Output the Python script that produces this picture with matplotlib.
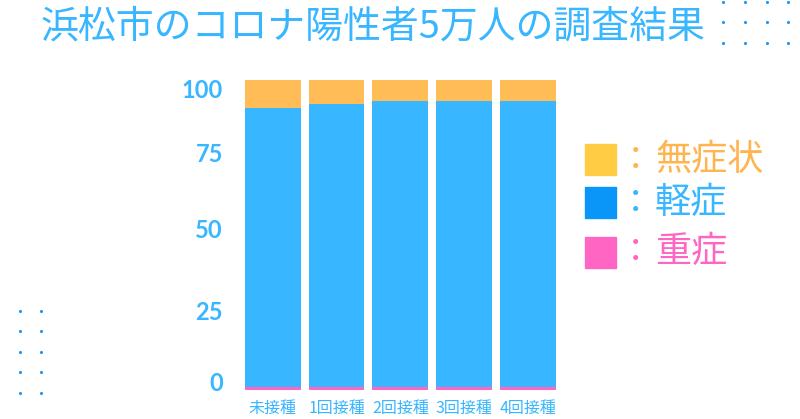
import matplotlib
matplotlib.use("Agg")
import matplotlib.pyplot as plt
import numpy as np

plt.rcParams['font.family'] = ['Noto Sans CJK JP', 'DejaVu Sans']

categories = ["未接種", "1回接種", "2回接種", "3回接種", "4回接種"]
severe = [1.0, 1.0, 1.0, 1.0, 1.0]
asymptomatic = [8.9, 7.8, 6.9, 6.9, 6.9]
mild = [100 - a - s for a, s in zip(asymptomatic, severe)]
ytick_values = [0, 25, 50, 75, 100]
legend_labels = ["無症状", "軽症", "重症"]
title = "浜松市のコロナ陽性者5万人の調査結果"

BLUE = "#38B6FF"
ORANGE = "#FFBC57"
PINK = "#FF66C4"
DOT = "#1A98F5"

fig = plt.figure(figsize=(8, 4.19), dpi=100)
ax = fig.add_axes([241/800, 29/419, 318.5/800, 310/419])
x = np.arange(len(categories))
w = 0.875
ax.bar(x, severe, w, color=PINK, linewidth=0)
ax.bar(x, mild, w, bottom=severe, color=BLUE, linewidth=0)
bot2 = [s + m for s, m in zip(severe, mild)]
ax.bar(x, asymptomatic, w, bottom=bot2, color=ORANGE, linewidth=0)
ax.set_xlim(-0.5, len(categories) - 0.5)
ax.set_ylim(0, 100)
for s in ax.spines.values():
    s.set_visible(False)
ax.set_xticks(x)
ax.set_xticklabels(categories, fontsize=11.5, color=BLUE)
# label placement in the source is slightly irregular
ytick_pos = [2.6, 25.8, 52.2, 76.5, 97.1]
ax.set_yticks(ytick_pos)
ax.set_yticklabels([str(v) for v in ytick_values], fontsize=17, color=BLUE,
                   family=['Lato', 'DejaVu Sans'], fontweight='bold')
ax.tick_params(axis='both', length=0)
ax.tick_params(axis='y', pad=13)
ax.tick_params(axis='x', pad=7)

fig.text(373/800, 1 - 27/419, title, color=BLUE, fontsize=27.3,
         ha='center', va='center')

# legend
leg_colors = ["#FFCC44", "#0A96F8", PINK]
txt_colors = ["#FFB54F", BLUE, PINK]
leg_y = [160, 203, 252]
for lab, c, tc, yy in zip(legend_labels, leg_colors, txt_colors, leg_y):
    fy = 1 - yy / 419
    fig.patches.append(plt.Rectangle((585/800, fy - 15.5/419), 31/800, 31/419,
                                     transform=fig.transFigure, color=c, figure=fig))
    fig.text(636/800, fy, "：", color=tc, fontsize=24, ha='center', va='center')
    fig.text(655/800, fy, lab, color=tc, fontsize=26, ha='left', va='center')

# decorative dots
deco = fig.add_axes([0, 0, 1, 1], facecolor='none')
deco.set_xlim(0, 800)
deco.set_ylim(419, 0)
deco.axis('off')
tr_x, tr_y = [723, 745, 766.5, 788], [2, 22, 43]
bl_x, bl_y = [20, 41], [311, 331, 352, 372, 393]
for xs, ys in ((tr_x, tr_y), (bl_x, bl_y)):
    gx, gy = np.meshgrid(xs, ys)
    deco.scatter(gx.ravel(), gy.ravel(), s=5, color=DOT, linewidths=0)

fig.savefig("out.png", dpi=100)
